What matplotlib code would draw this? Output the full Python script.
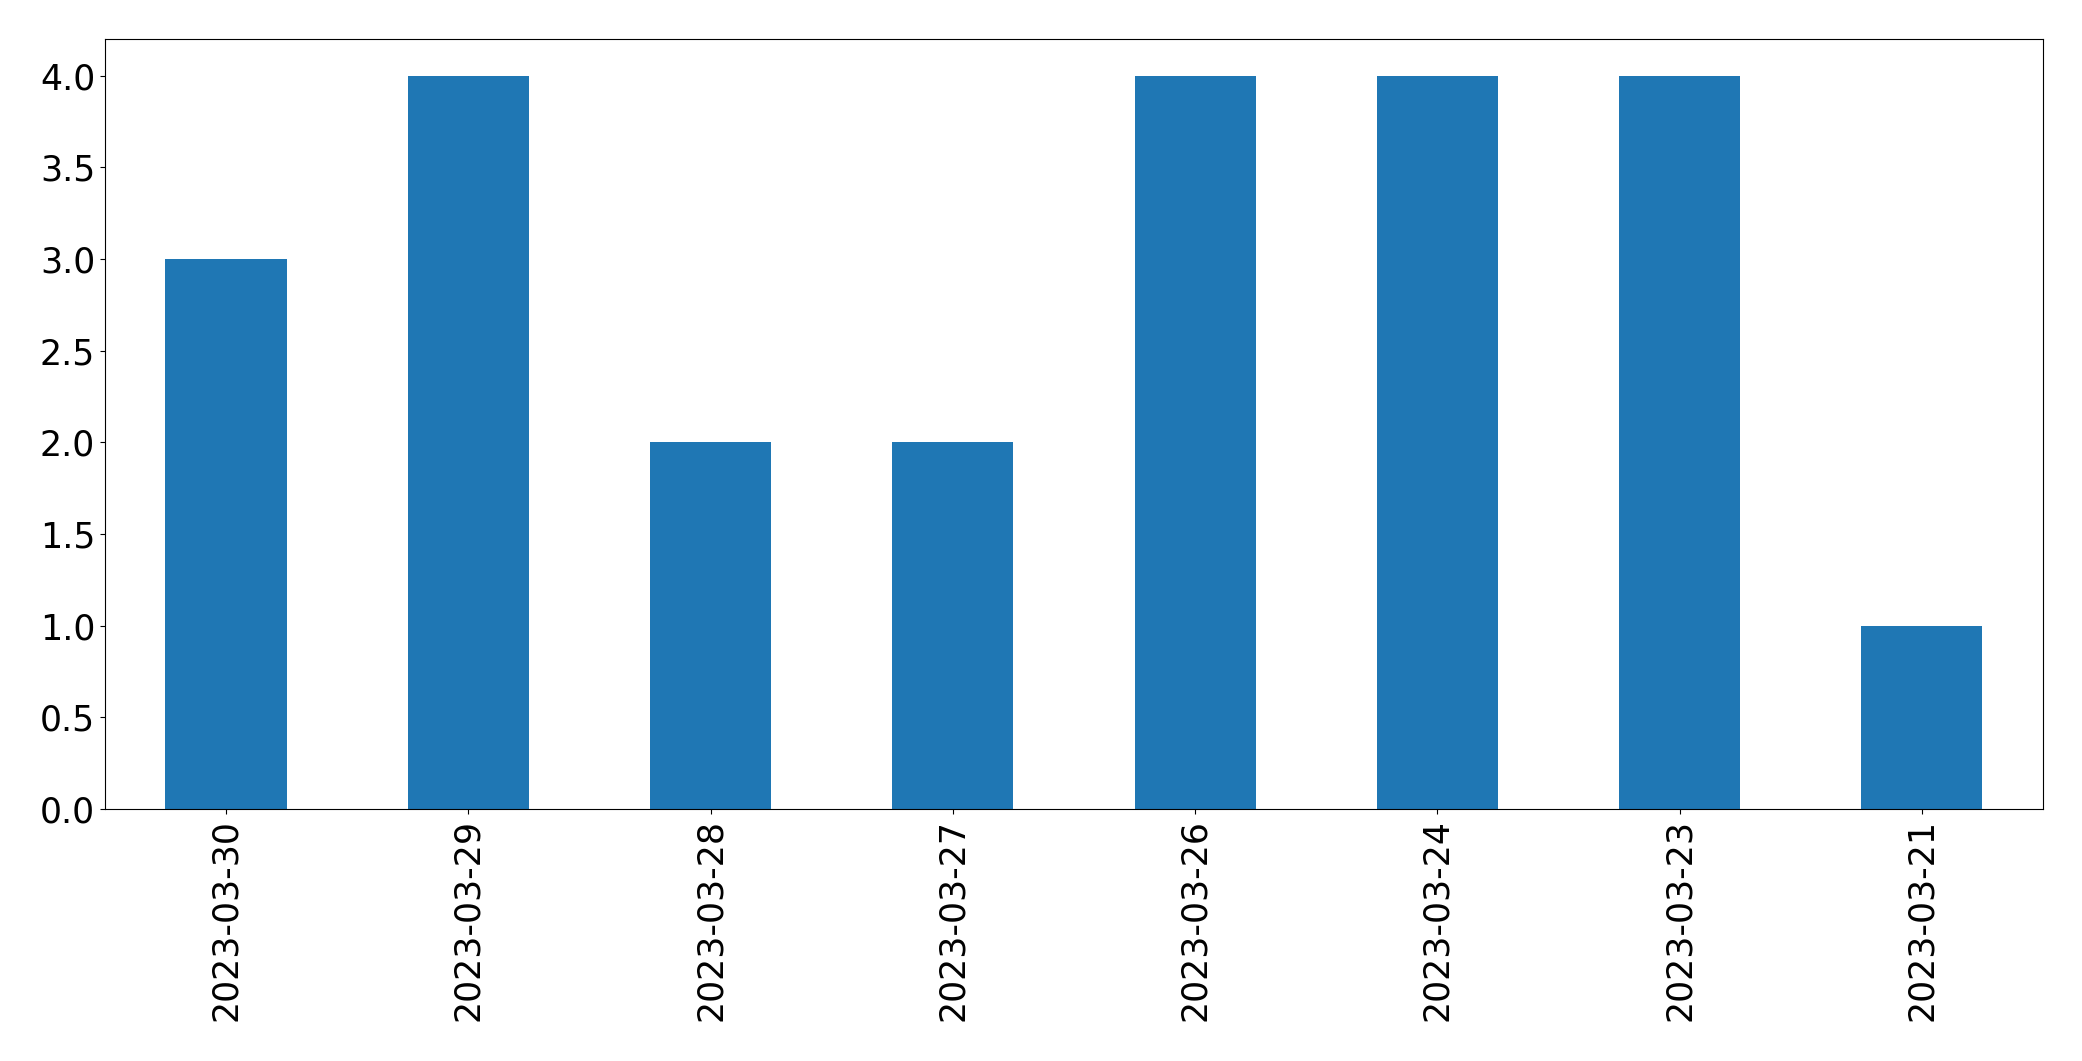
import matplotlib
matplotlib.use("Agg")
import matplotlib.pyplot as plt
import pandas as pd

dates = ["2023-03-30", "2023-03-29", "2023-03-28", "2023-03-27",
         "2023-03-26", "2023-03-24", "2023-03-23", "2023-03-21"]
counts = [3, 4, 2, 2, 4, 4, 4, 1]

s = pd.Series(counts, index=dates)

fig = plt.figure(figsize=(20.82, 10.61), dpi=100)
ax = fig.add_axes([0.0504, 0.2375, 0.9309, 0.7257])

s.plot(kind="bar", ax=ax, color="#1f77b4")
ax.tick_params(axis="both", labelsize=25)
plt.setp(ax.get_xticklabels(), rotation=90)

plt.savefig("out.png", dpi=100)
